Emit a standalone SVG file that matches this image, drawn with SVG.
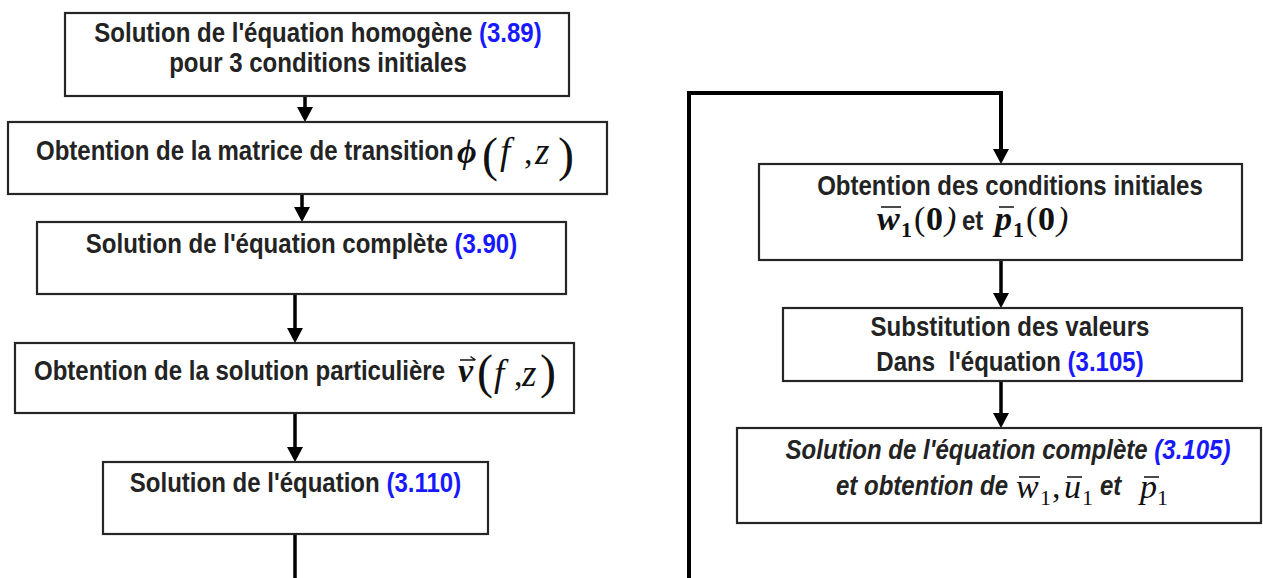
<svg xmlns="http://www.w3.org/2000/svg" width="1263" height="578" viewBox="0 0 1263 578">
<defs>
<marker id="arrow" markerUnits="userSpaceOnUse" markerWidth="15" markerHeight="16" viewBox="0 0 15 16" refX="11" refY="8" orient="auto">
<path d="M0,0 L15,8 L0,16 Z" fill="#000"/>
</marker>
<style>
.box{fill:#fff;stroke:#262626;stroke-width:2.2}
.lnk{fill:none;stroke:#000;stroke-width:3.5}
.big{stroke-width:4}
.t{font-family:"Liberation Sans",Arial,sans-serif;font-weight:bold;font-size:27px;fill:#232323}
.it{font-style:italic}
.ref{fill:#1919ff}
.m{font-family:"Liberation Serif","Times New Roman","DejaVu Serif",serif;fill:#111;font-size:34px}
.mb{font-weight:bold}
.mi{font-style:italic}
.fz{font-size:37px}
.sub{font-size:22px}
.par{font-size:48px;font-weight:normal;font-style:normal}
.bar{stroke:#111;stroke-width:1.5}
</style>
</defs>

<rect width="1263" height="578" fill="#fff"/>

<!-- arrows and the return line -->
<g id="connectors">
<path class="lnk" d="M305 96 V118" marker-end="url(#arrow)"/>
<path class="lnk" d="M302 194 V218" marker-end="url(#arrow)"/>
<path class="lnk" d="M295 294 V339" marker-end="url(#arrow)"/>
<path class="lnk" d="M295 413 V458" marker-end="url(#arrow)"/>
<path class="lnk" d="M295 534 V578"/>
<path class="lnk big" d="M689 578 V93 H1001 V160" marker-end="url(#arrow)"/>
<path class="lnk" d="M1001 260 V304" marker-end="url(#arrow)"/>
<path class="lnk" d="M1001 381 V424" marker-end="url(#arrow)"/>
</g>

<!-- left column -->
<g id="homogene">
<rect class="box" x="65" y="13" width="504" height="83"/>
<g transform="matrix(0.89 0 0 1 34.98 0)">
<text class="t" x="318" y="42" text-anchor="middle">Solution de l'équation homogène <tspan class="ref">(3.89)</tspan></text>
<text class="t" x="318" y="72" text-anchor="middle">pour 3 conditions initiales</text>
</g>
</g>

<g id="transition">
<rect class="box" x="8" y="122" width="599" height="72"/>
<g transform="matrix(0.89 0 0 1 3.96 0)">
<text class="t" x="36" y="160">Obtention de la matrice de transition</text>
</g>
<text class="m mb mi" x="457" y="163">ϕ</text>
<text class="m par" x="482" y="171">(</text>
<text class="m mi fz" x="500" y="164">f</text>
<text class="m" x="524" y="164">,</text>
<text class="m mi fz" x="535" y="164">z</text>
<text class="m par" x="558" y="171">)</text>
</g>

<g id="complete">
<rect class="box" x="37" y="222" width="529" height="72"/>
<g transform="matrix(0.89 0 0 1 33.17 0)">
<text class="t" x="301.5" y="253" text-anchor="middle">Solution de l'équation complète <tspan class="ref">(3.90)</tspan></text>
</g>
</g>

<g id="particuliere">
<rect class="box" x="15" y="343" width="559" height="70"/>
<g transform="matrix(0.89 0 0 1 3.74 0)">
<text class="t" x="34" y="380">Obtention de la solution particulière</text>
</g>
<text class="m mb mi" x="458" y="382" font-size="32">v</text>
<path d="M460 360 H475 M470.5 356.5 L475.5 360" fill="none" stroke="#111" stroke-width="1.5"/>
<text class="m par" x="477" y="388">(</text>
<text class="m mi fz" x="494" y="386">f</text>
<text class="m" x="514" y="386">,</text>
<text class="m mi fz" x="522" y="386">z</text>
<text class="m par" x="540" y="388">)</text>
</g>

<g id="equation">
<rect class="box" x="103" y="462" width="385" height="72"/>
<g transform="matrix(0.89 0 0 1 32.5 0)">
<text class="t" x="295.5" y="492" text-anchor="middle">Solution de l'équation <tspan class="ref">(3.110)</tspan></text>
</g>
</g>

<!-- right column -->
<g id="initiales">
<rect class="box" x="759" y="164" width="483" height="96"/>
<g transform="matrix(0.89 0 0 1 111.1 0)">
<text class="t" x="1010" y="195" text-anchor="middle">Obtention des conditions initiales</text>
</g>
<text class="m mb mi" x="877" y="230">w</text>
<text class="m mb sub" x="901" y="237">1</text>
<text class="m" x="914" y="230">(</text>
<text class="m mb" x="926" y="230">0</text>
<text class="m mi" x="945" y="230">)</text>
<g transform="matrix(0.89 0 0 1 105.82 0)">
<text class="t" x="962" y="230">et</text>
</g>
<text class="m mb mi" x="995" y="230">p</text>
<text class="m mb sub" x="1013" y="237">1</text>
<text class="m" x="1026" y="230">(</text>
<text class="m mb" x="1038" y="230">0</text>
<text class="m mi" x="1057" y="230">)</text>
<path class="bar" d="M881 207 H901 M999 207 H1014"/>
</g>

<g id="substitution">
<rect class="box" x="783" y="308" width="459" height="73"/>
<g transform="matrix(0.89 0 0 1 111.1 0)">
<text class="t" x="1010" y="336" text-anchor="middle">Substitution des valeurs</text>
<text class="t" x="1010" y="371" text-anchor="middle">Dans&#160; l'équation <tspan class="ref">(3.105)</tspan></text>
</g>
</g>

<g id="resolution">
<rect class="box" x="737" y="428" width="524" height="95"/>
<g transform="matrix(0.89 0 0 1 110.88 0)">
<text class="t it" x="1008" y="459" text-anchor="middle">Solution de l'équation complète <tspan class="ref">(3.105)</tspan></text>
</g>
<g transform="matrix(0.89 0 0 1 91.96 0)">
<text class="t it" x="836" y="495">et obtention de</text>
</g>
<text class="m mi" x="1016" y="498" font-size="32">w</text>
<text class="m sub" x="1040" y="505">1</text>
<text class="m" x="1052" y="498" font-size="32">,</text>
<text class="m mi" x="1064" y="498" font-size="32">u</text>
<text class="m sub" x="1082" y="505">1</text>
<g transform="matrix(0.89 0 0 1 121 0)">
<text class="t it" x="1100" y="495">et</text>
</g>
<text class="m mi" x="1140" y="498" font-size="32">p</text>
<text class="m sub" x="1157" y="505">1</text>
<path class="bar" d="M1019 477 H1040 M1067 477 H1082 M1144 477 H1159"/>
</g>
</svg>
